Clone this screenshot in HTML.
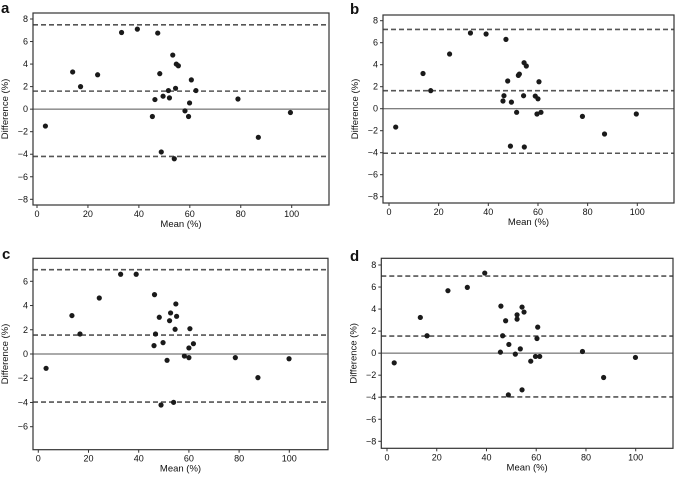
<!DOCTYPE html>
<html><head><meta charset="utf-8"><style>
html,body{margin:0;padding:0;background:#fff;}
svg{display:block;font-family:"Liberation Sans",sans-serif;}
</style></head><body>
<svg id="chart" width="676" height="478" viewBox="0 0 676 478"></svg>
<script>
const panelLetters = ["a","b","c","d"];
const xA = [3.3,14,17.1,23.8,33.2,39.4,47.4,53.3,54.7,55.5,48.2,60.6,51.6,54.4,62.4,46.3,49.5,52,59.9,78.9,45.3,58.1,59.5,99.5,86.9,48.8,53.9];
const yA = [-1.5,3.3,2.0,3.05,6.8,7.1,6.75,4.8,4.0,3.85,3.15,2.6,1.65,1.85,1.65,0.85,1.15,1.0,0.55,0.9,-0.65,-0.15,-0.65,-0.3,-2.5,-3.8,-4.4];
const xB = [2.7,13.7,16.8,24.4,32.8,39.1,47.1,54.4,55.3,52.1,52.5,47.8,60.4,46.3,54.2,58.9,60,45.9,49.3,51.4,59.6,61.2,77.9,99.6,86.8,48.9,54.5];
const yB = [-1.67,3.2,1.64,4.97,6.88,6.79,6.3,4.18,3.88,3.03,3.15,2.52,2.45,1.18,1.18,1.15,0.9,0.7,0.6,-0.33,-0.48,-0.33,-0.7,-0.48,-2.3,-3.4,-3.48];
const xC = [3.1,13.4,16.6,24.3,32.8,39,46.3,54.8,52.7,48.2,55.1,52.3,54.5,60.4,46.7,46.1,49.7,61.8,60,58.2,60,51.3,78.5,99.9,87.5,48.9,53.9];
const yC = [-1.18,3.17,1.65,4.62,6.58,6.58,4.9,4.13,3.39,3.03,3.11,2.75,2.04,2.09,1.65,0.69,0.94,0.85,0.5,-0.17,-0.3,-0.52,-0.3,-0.39,-1.95,-4.21,-3.99];
const xD = [2.9,13.4,16.1,24.5,32.3,39.3,45.8,54.3,55.1,52.3,52.3,47.7,60.6,60.3,46.5,49,53.6,45.6,51.6,59.7,61.4,57.8,78.6,99.9,87.1,48.8,54.3];
const yD = [-0.88,3.24,1.58,5.67,5.97,7.27,4.27,4.18,3.73,3.48,3.09,2.94,2.36,1.33,1.58,0.79,0.39,0.09,-0.09,-0.3,-0.3,-0.73,0.15,-0.39,-2.21,-3.79,-3.33];
const meanLines = [1.6,1.64,1.56,1.55];
const upperLoA = [7.48,7.21,6.96,7.0];
const lowerLoA = [-4.2,-4.05,-3.97,-3.97];
const xTicks = [0,20,40,60,80,100];
const yTicksABD = [-8,-6,-4,-2,0,2,4,6,8];
const yTicksC = [-6,-4,-2,0,2,4,6];

const NS="http://www.w3.org/2000/svg";
const svg=document.getElementById('chart');
function mk(tag,attrs,parent){const e=document.createElementNS(NS,tag);for(const k in attrs)e.setAttribute(k,attrs[k]);(parent||svg).appendChild(e);return e;}

const panels=[
 {xs:xA,ys:yA,box:[33,13,329,205],x0:37,x100:291.7,yv:[8,-8],yp:[19,199.3],yt:yTicksABD,lx:1,ly:13},
 {xs:xB,ys:yB,box:[383,15,674,203],x0:389,x100:637.3,yv:[8,-8],yp:[20.7,196.7],yt:yTicksABD,lx:350,ly:14},
 {xs:xC,ys:yC,box:[33,258.3,328,449.7],x0:38.3,x100:289.3,yv:[6,-6],yp:[281.3,426.7],yt:yTicksC,lx:2,ly:259},
 {xs:xD,ys:yD,box:[381.3,258.3,673,448.3],x0:387,x100:635.7,yv:[8,-8],yp:[265,441.3],yt:yTicksABD,lx:350,ly:261}
];
panels.forEach((p,i)=>{
 const g=mk('g',{});
 
 
 const xScale=v=>p.x0+(p.x100-p.x0)*v/100;
 const yScale=v=>p.yp[0]+(p.yp[1]-p.yp[0])*(v-p.yv[0])/(p.yv[1]-p.yv[0]);
 const [L,T,R,B]=p.box;
 const lt=mk('text',{x:p.lx,y:p.ly,'font-size':15,'font-weight':'bold',fill:'#111'},g);lt.textContent=panelLetters[i];
 
 
 const z=mk('line',{x1:L,x2:R,y1:yScale(0),y2:yScale(0),stroke:'#555','stroke-width':1},g);
 
 
 [[upperLoA[i],'upper-limit-line'],[meanLines[i],'mean-difference-line'],[lowerLoA[i],'lower-limit-line']].forEach(([v,n])=>{
  const l=mk('line',{x1:L,x2:R,y1:yScale(v),y2:yScale(v),stroke:'#555','stroke-width':1.6,'stroke-dasharray':'5,3'},g);
  
  
 });
 p.xs.forEach((xv,j)=>{
  const c=mk('circle',{cx:xScale(xv),cy:yScale(p.ys[j]),r:2.6,fill:'#1a1a1a'},g);
  
  
 });
 const bx=mk('rect',{x:L,y:T,width:R-L,height:B-T,fill:'none',stroke:'#333','stroke-width':1.2},g);
 
 
 xTicks.forEach(t=>{
  const x=xScale(t);
  mk('line',{x1:x,x2:x,y1:B,y2:B+3,stroke:'#333','stroke-width':1},g);
  const tx=mk('text',{x:x,y:B+12,'font-size':9,'text-anchor':'middle',fill:'#111'},g);tx.textContent=t;
  
  
 });
 p.yt.forEach(t=>{
  const y=yScale(t);
  mk('line',{x1:L-3,x2:L,y1:y,y2:y,stroke:'#333','stroke-width':1},g);
  const tx=mk('text',{x:L-5,y:y+3,'font-size':9,'text-anchor':'end',fill:'#111'},g);tx.textContent=(t<0?'\u2212'+(-t):t);
  
  
 });
 const xl=mk('text',{x:(L+R)/2,y:B+22,'font-size':9.5,'text-anchor':'middle',fill:'#111'},g);xl.textContent='Mean (%)';
 
 
 const ym=(T+B)/2, yx=L-25;
 const yl=mk('text',{x:yx,y:ym,'font-size':9.5,'text-anchor':'middle',fill:'#111',transform:`rotate(-90 ${yx} ${ym})`},g);yl.textContent='Difference (%)';
 
 
});
</script>
</body></html>
